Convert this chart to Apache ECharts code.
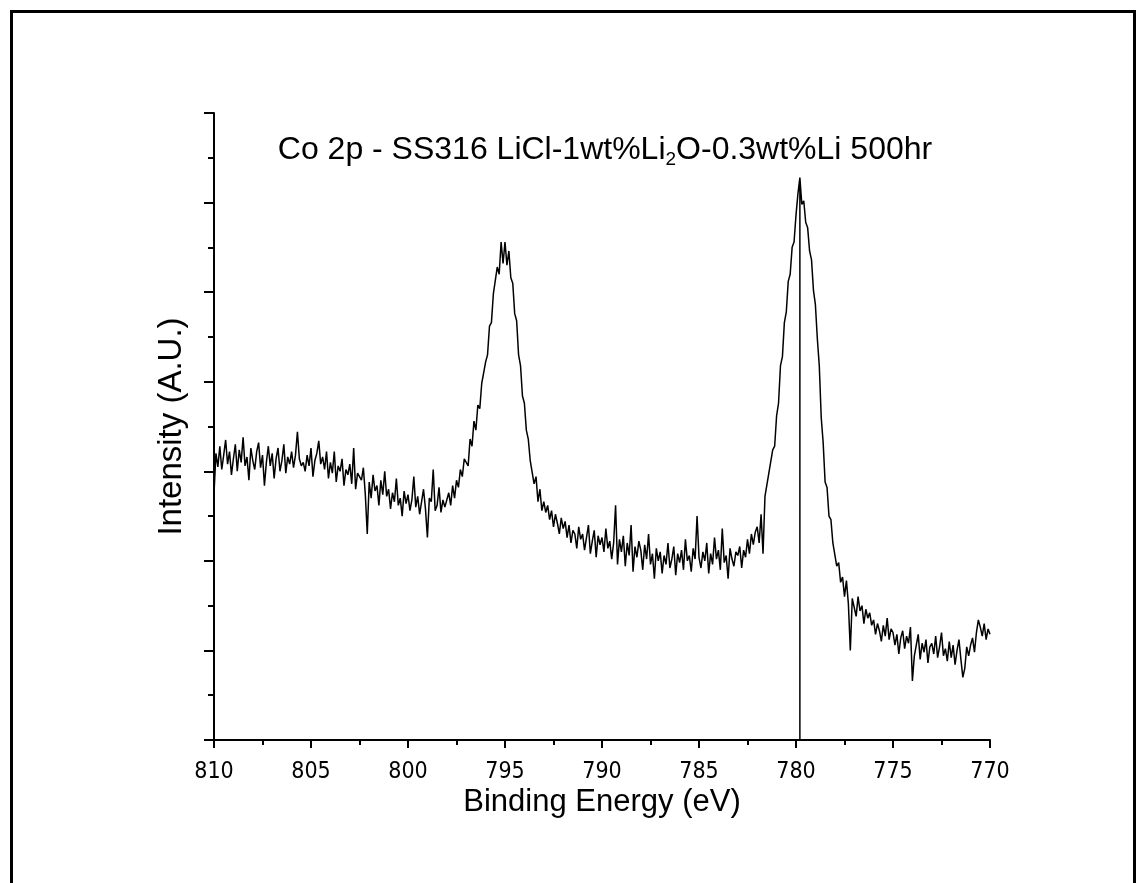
<!DOCTYPE html>
<html>
<head>
<meta charset="utf-8">
<script src="https://cdn.jsdelivr.net/npm/echarts@6/dist/echarts.min.js"></script>
<style>
  html, body { margin: 0; padding: 0; background: #fff; }
  #frame { position: absolute; left: 10px; top: 10px; width: 1126px; height: 900px; border: 3px solid #000; box-sizing: border-box; pointer-events: none; }
  #chart { position: absolute; left: 0; top: 0; width: 1144px; height: 883px; }
</style>
</head>
<body>
<div id="chart"></div>
<div id="frame"></div>
<script>
// Binding energy sampling (eV), high to low
const energyStart = 810.0;
const energyStep = 0.1;
// Intensity (A.U.), one value per 0.1 eV from 810.0 to 770.0
const intensity = [
  2.75, 3.20, 3.05, 3.28, 3.02, 3.18, 3.35, 3.08, 3.22, 2.96,
  3.14, 3.30, 3.00, 3.24, 3.10, 3.38, 3.06, 3.16, 2.90, 3.26,
  3.12, 3.02, 3.22, 3.32, 3.04, 3.18, 2.84, 3.10, 3.28, 3.06,
  3.20, 2.92, 3.14, 3.26, 3.00, 3.12, 3.30, 2.98, 3.16, 3.08,
  3.22, 3.04, 3.18, 3.44, 3.14, 3.06, 3.10, 3.00, 3.18, 3.06,
  3.26, 2.94, 3.12, 3.20, 3.34, 3.08, 3.16, 3.02, 3.22, 2.92,
  3.10, 2.98, 3.22, 2.88, 3.06, 3.00, 3.14, 2.84, 3.02, 2.96,
  3.08, 2.86, 3.26, 2.80, 2.98, 2.94, 2.90, 3.04, 2.74, 2.30,
  2.88, 2.70, 2.96, 2.78, 2.84, 2.62, 2.90, 2.74, 3.00, 2.72,
  2.80, 2.58, 2.76, 2.66, 2.92, 2.62, 2.70, 2.50, 2.78, 2.64,
  2.74, 2.56, 2.68, 2.94, 2.60, 2.72, 2.52, 2.66, 2.80, 2.58,
  2.26, 2.70, 2.66, 3.02, 2.56, 2.62, 2.82, 2.54, 2.68, 2.60,
  2.60, 2.76, 2.62, 2.84, 2.70, 2.90, 2.82, 3.02, 2.94, 3.14,
  3.14, 3.06, 3.36, 3.28, 3.56, 3.46, 3.74, 3.70, 3.98, 3.96,
  4.22, 4.30, 4.62, 4.66, 4.98, 5.00, 5.28, 5.20, 5.56, 5.32,
  5.56, 5.30, 5.46, 5.16, 5.10, 4.76, 4.68, 4.30, 4.18, 3.84,
  3.76, 3.46, 3.36, 3.12, 3.10, 2.86, 2.94, 2.66, 2.80, 2.56,
  2.66, 2.54, 2.62, 2.46, 2.56, 2.38, 2.52, 2.42, 2.30, 2.48,
  2.36, 2.44, 2.26, 2.40, 2.20, 2.34, 2.30, 2.14, 2.38, 2.24,
  2.30, 2.12, 2.26, 2.40, 2.08, 2.22, 2.34, 2.04, 2.28, 2.18,
  2.26, 2.10, 2.36, 2.14, 2.22, 2.02, 2.20, 2.62, 1.96, 2.24,
  2.10, 2.28, 1.94, 2.20, 2.06, 2.40, 1.88, 2.16, 2.04, 2.22,
  2.12, 1.90, 2.18, 2.02, 2.30, 1.96, 2.08, 1.80, 2.14, 2.00,
  2.10, 1.86, 2.06, 1.96, 2.20, 1.92, 2.02, 2.16, 1.84, 2.08,
  1.98, 2.12, 1.90, 2.24, 2.00, 2.06, 1.88, 2.14, 2.02, 2.50,
  2.04, 1.92, 2.10, 2.00, 2.20, 1.86, 2.08, 1.96, 2.26, 2.02,
  2.12, 1.90, 2.36, 1.98, 2.06, 1.80, 2.14, 2.02, 1.94, 2.10,
  2.06, 2.16, 1.92, 2.12, 2.04, 2.24, 2.08, 2.30, 2.18, 2.32,
  2.38, 2.20, 2.52, 2.08, 2.72, 2.74, 2.98, 2.96, 3.24, 3.28,
  3.62, 3.76, 4.18, 4.28, 4.66, 4.78, 5.12, 5.20, 5.50, 5.56,
  5.86, 6.10, 6.28, 5.98, 6.02, 5.78, 5.72, 5.46, 5.36, 5.02,
  4.86, 4.48, 4.18, 3.60, 3.32, 2.88, 2.82, 2.50, 2.46, 2.20,
  2.18, 1.94, 1.98, 1.76, 1.82, 1.60, 1.78, 1.52, 1.00, 1.58,
  1.56, 1.38, 1.60, 1.44, 1.50, 1.30, 1.46, 1.36, 1.42, 1.28,
  1.34, 1.18, 1.30, 1.22, 1.10, 1.28, 1.16, 1.36, 1.12, 1.24,
  1.20, 1.06, 1.18, 0.96, 1.14, 1.22, 1.02, 1.16, 1.08, 1.26,
  0.66, 0.94, 1.06, 1.18, 0.90, 1.08, 0.98, 1.12, 0.86, 1.04,
  1.08, 0.96, 1.16, 0.92, 1.04, 1.20, 0.94, 1.02, 0.88, 1.10,
  0.92, 1.06, 0.84, 1.00, 1.12, 0.90, 0.70, 0.80, 1.04, 0.94,
  1.06, 1.14, 0.98, 1.20, 1.34, 1.26, 1.16, 1.30, 1.12, 1.24,
  1.18
];
// Single-channel dropout visible as a vertical line near the 780 eV peak
const dropoutEnergy = 779.8;
const dropoutValue = 0;

const seriesData = [];
intensity.forEach(function (v, i) {
  const e = Math.round((energyStart - i * energyStep) * 10) / 10;
  seriesData.push([e, v]);
  if (e === dropoutEnergy) {
    seriesData.push([e, dropoutValue]);
    seriesData.push([e, v]);
  }
});

const FONT = '"Liberation Sans", Arial, sans-serif';
const FONT_N = '"DejaVu Sans Condensed", "Liberation Sans", sans-serif';
const chart = echarts.init(document.getElementById('chart'), null, { renderer: 'canvas' });
chart.setOption({
  animation: false,
  backgroundColor: '#fff',
  title: {
    text: 'Co 2p - SS316 LiCl-1wt%Li{sub|2}O-0.3wt%Li 500hr',
    left: 600,
    top: 127,
    textAlign: 'center',
    textStyle: {
      fontFamily: FONT, fontSize: 32, fontWeight: 'normal', color: '#000',
      rich: {
        sub: { fontFamily: FONT, fontSize: 19, color: '#000', padding: [18, 0, 0, 0] }
      }
    }
  },
  grid: { left: 214, right: 154, top: 113, bottom: 143 },
  xAxis: {
    type: 'value',
    min: 770, max: 810, interval: 5,
    inverse: true,
    name: 'Binding Energy (eV)',
    nameLocation: 'middle',
    nameGap: 47,
    nameMoveOverlap: false,
    nameTextStyle: { fontFamily: FONT, fontSize: 31, color: '#000' },
    axisLine: { lineStyle: { color: '#000', width: 2 } },
    axisTick: { length: 8, lineStyle: { color: '#000', width: 2 } },
    minorTick: { show: true, splitNumber: 2, length: 5, lineStyle: { color: '#000', width: 2 } },
    axisLabel: { fontFamily: FONT_N, fontSize: 23, color: '#000', margin: 21 },
    splitLine: { show: false }
  },
  yAxis: {
    type: 'value',
    min: 0, max: 7, interval: 1,
    name: 'Intensity (A.U.)',
    nameLocation: 'middle',
    nameGap: 26,
    nameTextStyle: { fontFamily: FONT, fontSize: 33, color: '#000' },
    axisLine: { show: true, lineStyle: { color: '#000', width: 2 } },
    axisTick: { show: true, length: 10, lineStyle: { color: '#000', width: 2 } },
    minorTick: { show: true, splitNumber: 2, length: 6, lineStyle: { color: '#000', width: 2 } },
    axisLabel: { show: false },
    splitLine: { show: false }
  },
  series: [{
    type: 'line',
    data: seriesData,
    showSymbol: false,
    symbol: 'none',
    sampling: null,
    clip: true,
    lineStyle: { color: '#000', width: 1.5 }
  }]
});
</script>
</body>
</html>
